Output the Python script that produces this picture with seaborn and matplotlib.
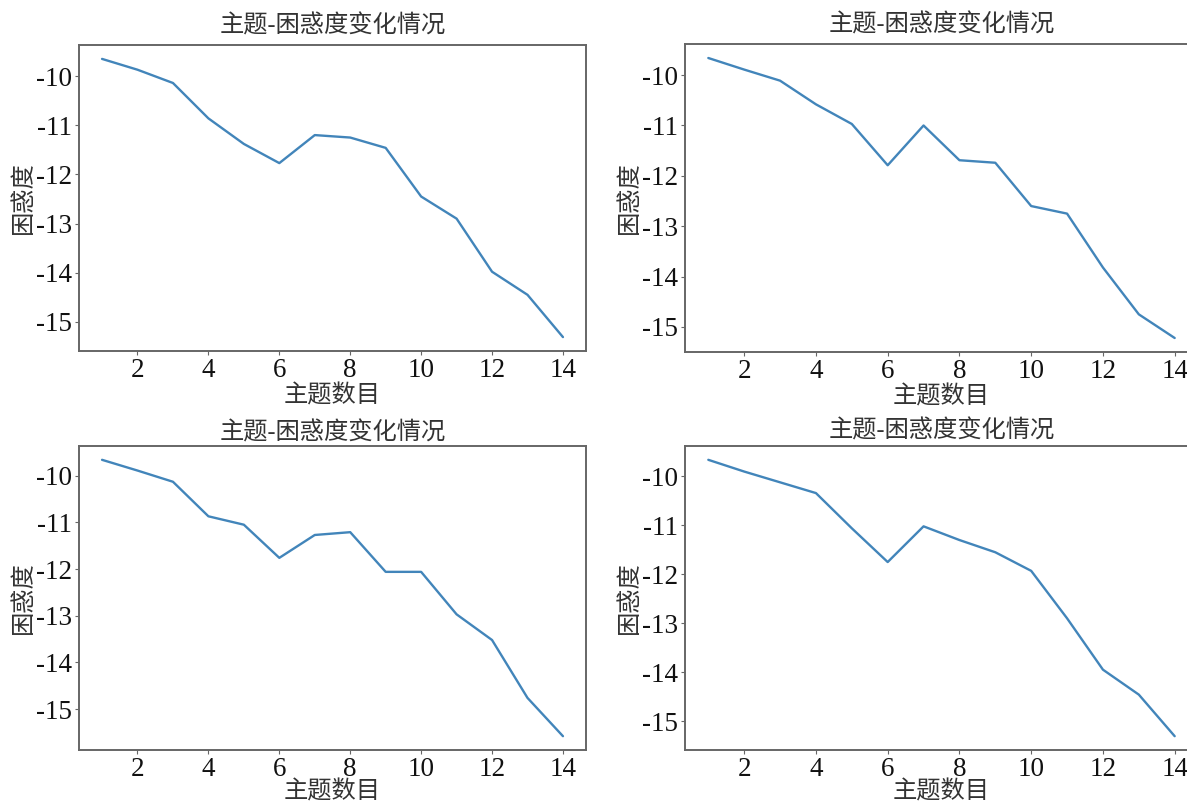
import matplotlib
matplotlib.use("Agg")
import matplotlib.pyplot as plt
import seaborn as sns

# 主题数目 1..14
topics = list(range(1, 15))

perplexity_a = [-9.65, -9.87, -10.14, -10.86, -11.38, -11.77, -11.20, -11.25,
                -11.46, -12.45, -12.90, -13.98, -14.45, -15.31]
perplexity_b = [-9.66, -9.89, -10.11, -10.58, -10.97, -11.79, -11.00, -11.69,
                -11.74, -12.60, -12.75, -13.82, -14.75, -15.22]
perplexity_c = [-9.66, -9.89, -10.13, -10.87, -11.05, -11.76, -11.27, -11.21,
                -12.06, -12.06, -12.97, -13.52, -14.76, -15.58]
perplexity_d = [-9.66, -9.90, -10.12, -10.34, -11.06, -11.75, -11.02, -11.30,
                -11.55, -11.93, -12.90, -13.95, -14.46, -15.31]

title = "主题-困惑度变化情况"
xlabel = "主题数目"
ylabel = "困惑度"

sns.set_style("ticks", {
    "axes.edgecolor": "#666666",
    "xtick.color": "#666666",
    "ytick.color": "#666666",
})
plt.rcParams["font.family"] = ["Liberation Serif", "Noto Sans CJK SC", "DejaVu Sans"]
plt.rcParams["axes.linewidth"] = 1.4
plt.rcParams["xtick.major.size"] = 3
plt.rcParams["ytick.major.size"] = 3
plt.rcParams["axes.unicode_minus"] = False

W, H = 1187, 807
fig = plt.figure(figsize=(W / 100, H / 100), dpi=100)


def box(left, top, right, bottom):
    return [left / W, 1 - bottom / H, (right - left) / W, (bottom - top) / H]


# values, axes rect, title pad, xlabel pad
panels = [
    (perplexity_a, box(79, 45, 586, 351), 9, 1),
    (perplexity_b, box(685, 44, 1198, 352), 9, 1),
    (perplexity_c, box(79, 446, 586, 750), 5, -1),
    (perplexity_d, box(685, 446, 1198, 750), 6, -1),
]

for values, rect, title_pad, x_pad in panels:
    ax = fig.add_axes(rect)
    sns.lineplot(x=topics, y=values, ax=ax, color="#4285ba", linewidth=1.7)
    ax.set_title(title, fontsize=17.5, color="#333333", pad=title_pad,
                 fontweight="light")
    ax.set_xlabel(xlabel, fontsize=17.5, color="#333333", labelpad=x_pad,
                  fontweight="light")
    ax.set_ylabel(ylabel, fontsize=17.5, color="#333333", labelpad=1,
                  fontweight="light")
    ax.set_xticks([2, 4, 6, 8, 10, 12, 14])
    ax.set_yticks([-10, -11, -12, -13, -14, -15])
    ax.tick_params(labelsize=19.5, labelcolor="#111111", pad=2)

fig.savefig("out.png", dpi=100)
